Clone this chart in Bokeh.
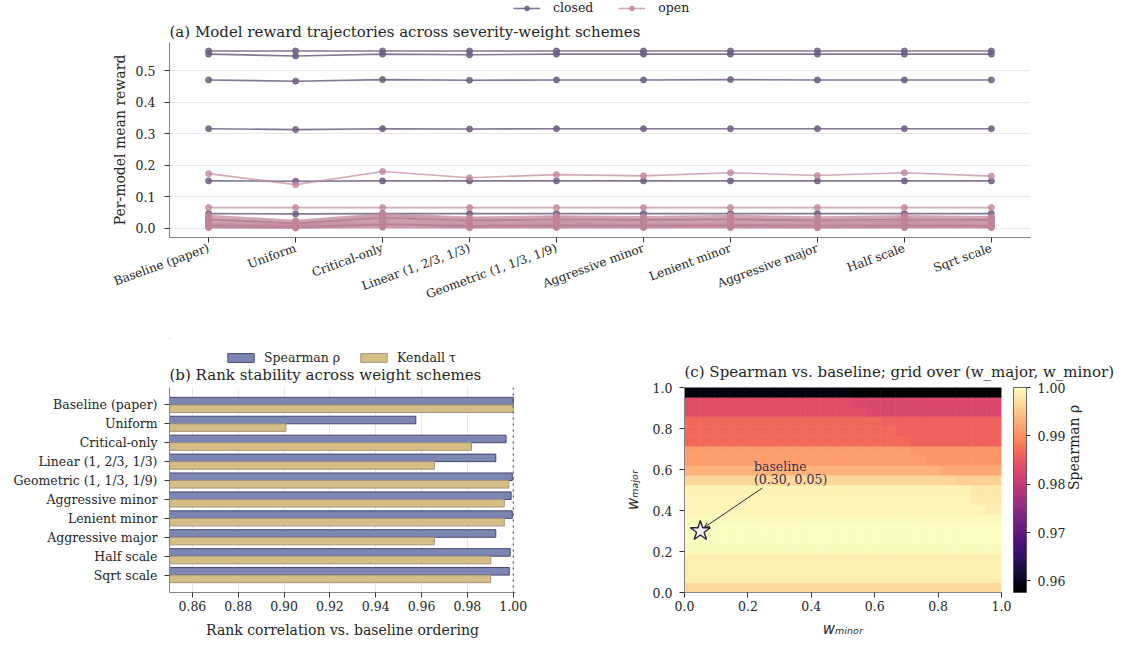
import math
from bokeh.plotting import figure
from bokeh.models import (Range1d, FixedTicker, PrintfTickFormatter, Label, Legend, LegendItem,
                          ColorBar, LinearColorMapper, Span, Arrow, OpenHead, ColumnDataSource,
                          LinearAxis)
from bokeh.layouts import column, row
from bokeh.palettes import Magma256
from bokeh.transform import transform
from bokeh.embed import file_html
from bokeh.resources import INLINE

FONT = "DejaVu Serif"
TXT = "#262626"

# ---------------- data ----------------
schemes = ["Baseline (paper)", "Uniform", "Critical-only", "Linear (1, 2/3, 1/3)",
           "Geometric (1, 1/3, 1/9)", "Aggressive minor", "Lenient minor",
           "Aggressive major", "Half scale", "Sqrt scale"]

closed_models = {
    "closed_a": [0.563, 0.563, 0.563, 0.563, 0.563, 0.563, 0.563, 0.563, 0.563, 0.563],
    "closed_b": [0.553, 0.547, 0.553, 0.551, 0.553, 0.553, 0.553, 0.553, 0.553, 0.553],
    "closed_c": [0.471, 0.467, 0.472, 0.470, 0.471, 0.471, 0.472, 0.471, 0.471, 0.471],
    "closed_d": [0.316, 0.313, 0.316, 0.315, 0.316, 0.316, 0.316, 0.316, 0.316, 0.316],
    "closed_e": [0.150, 0.149, 0.150, 0.150, 0.150, 0.150, 0.150, 0.150, 0.150, 0.150],
    "closed_f": [0.046, 0.045, 0.046, 0.046, 0.046, 0.046, 0.046, 0.046, 0.046, 0.046],
    "closed_g": [0.027, 0.015, 0.033, 0.024, 0.027, 0.026, 0.028, 0.025, 0.027, 0.026],
    "closed_h": [0.009, 0.003, 0.012, 0.007, 0.009, 0.008, 0.009, 0.008, 0.009, 0.008],
}

open_models = {
    "open_a": [0.173, 0.138, 0.180, 0.160, 0.170, 0.166, 0.176, 0.167, 0.176, 0.165],
    "open_b": [0.065, 0.065, 0.065, 0.065, 0.065, 0.065, 0.065, 0.065, 0.065, 0.065],
    "open_c": [0.040, 0.024, 0.045, 0.034, 0.038, 0.036, 0.040, 0.035, 0.039, 0.036],
    "open_d": [0.036, 0.020, 0.041, 0.030, 0.034, 0.032, 0.036, 0.031, 0.035, 0.032],
    "open_e": [0.032, 0.017, 0.038, 0.027, 0.030, 0.029, 0.032, 0.028, 0.031, 0.029],
    "open_f": [0.028, 0.014, 0.034, 0.023, 0.027, 0.025, 0.028, 0.024, 0.027, 0.025],
    "open_g": [0.024, 0.011, 0.030, 0.020, 0.023, 0.022, 0.024, 0.021, 0.023, 0.022],
    "open_h": [0.020, 0.009, 0.026, 0.017, 0.019, 0.018, 0.021, 0.018, 0.020, 0.018],
    "open_i": [0.017, 0.007, 0.022, 0.014, 0.016, 0.015, 0.017, 0.015, 0.017, 0.015],
    "open_j": [0.014, 0.005, 0.018, 0.011, 0.013, 0.012, 0.014, 0.012, 0.014, 0.012],
    "open_k": [0.011, 0.004, 0.015, 0.009, 0.010, 0.010, 0.011, 0.009, 0.011, 0.009],
    "open_l": [0.008, 0.003, 0.011, 0.006, 0.008, 0.007, 0.008, 0.007, 0.008, 0.007],
    "open_m": [0.005, 0.002, 0.008, 0.004, 0.005, 0.005, 0.005, 0.004, 0.005, 0.004],
    "open_n": [0.003, 0.001, 0.005, 0.002, 0.003, 0.003, 0.003, 0.002, 0.003, 0.003],
    "open_o": [0.001, 0.000, 0.002, 0.001, 0.001, 0.001, 0.001, 0.001, 0.001, 0.001],
}

spearman_rho = [1.0000, 0.9575, 0.9969, 0.9924, 0.9996, 0.9991, 0.9996, 0.9924, 0.9987, 0.9983]
kendall_tau = [1.0000, 0.9008, 0.9818, 0.9656, 0.9981, 0.9961, 0.9961, 0.9656, 0.9902, 0.9902]

w_minor = [0.00, 0.05, 0.10, 0.15, 0.20, 0.25, 0.30, 0.35, 0.40, 0.45, 0.50,
           0.55, 0.60, 0.65, 0.70, 0.75, 0.80, 0.85, 0.90, 0.95, 1.00]
w_major = [0.00, 0.05, 0.10, 0.15, 0.20, 0.25, 0.30, 0.35, 0.40, 0.45, 0.50,
           0.55, 0.60, 0.65, 0.70, 0.75, 0.80, 0.85, 0.90, 0.95, 1.00]
# Spearman rho vs baseline; one row per w_major value (bottom to top), columns follow w_minor
spearman_grid = [
    [0.99661] * 21,
    [0.99873] * 21,
    [0.99873] * 21,
    [0.99873] * 21,
    [0.99979] * 21,
    [0.99985] * 21,
    [0.99985, 1.00000] + [0.99985] * 19,
    [0.99960] * 21,
    [0.99930] * 20 + [0.99840],
    [0.99920] * 19 + [0.99820] * 2,
    [0.99915] * 19 + [0.99809] * 2,
    [0.99640] * 18 + [0.99576] * 3,
    [0.99322] * 17 + [0.99237] * 4,
    [0.99131] * 16 + [0.99067] * 5,
    [0.99131] * 15 + [0.99067] * 6,
    [0.98664] * 15 + [0.98580] * 6,
    [0.98664] * 14 + [0.98580] * 7,
    [0.98664] * 13 + [0.98580] * 8,
    [0.98346] * 12 + [0.98283] * 9,
    [0.98346] * 11 + [0.98283] * 10,
    [0.95890] * 11 + [0.95760] * 10,
]
baseline_w_minor = 0.05
baseline_w_major = 0.30

CLOSED = "#6d5f82"
OPEN = "#c08499"
SPEAR_FILL, SPEAR_LINE = "#7b87b2", "#4c4672"
KEND_FILL, KEND_LINE = "#d5be86", "#a69580"


def style_axis(ax, tick_size="12.5px", label_size="14px"):
    ax.axis_line_color = "#8a8285"
    ax.axis_line_width = 1
    ax.major_tick_line_color = "#333333"
    ax.major_tick_out = 5
    ax.major_tick_in = 0
    ax.minor_tick_line_color = None
    ax.major_label_text_font = FONT
    ax.major_label_text_font_size = tick_size
    ax.major_label_text_color = TXT
    ax.axis_label_text_font = FONT
    ax.axis_label_text_font_size = label_size
    ax.axis_label_text_font_style = "normal"
    ax.axis_label_text_color = TXT


def style_title(p, text, standoff):
    p.title.text = text
    p.title.align = "left"
    p.title.text_font = FONT
    p.title.text_font_size = "15px"
    p.title.text_font_style = "normal"
    p.title.text_color = TXT
    p.title.standoff = standoff


def strip(width, height, x_range, y_range, left=0, right=0):
    f = figure(width=width, height=height, output_backend="svg", toolbar_location=None,
               x_range=x_range, y_range=y_range,
               x_axis_location=None, y_axis_location=None, min_border=0,
               min_border_left=left, min_border_right=right)
    f.outline_line_color = None
    f.grid.visible = False
    return f


# ---------------- legend strip for (a) ----------------
leg_a_fig = strip(1137, 18, Range1d(0, 1), Range1d(0, 1), left=169, right=107)
la_c = [leg_a_fig.line(x=[-5, -4], y=[-5, -5], line_color=CLOSED, line_alpha=0.85, line_width=1.6),
        leg_a_fig.scatter(x=[-5], y=[-5], size=6, fill_color=CLOSED, line_color=CLOSED, alpha=0.85)]
la_o = [leg_a_fig.line(x=[-5, -4], y=[-5, -5], line_color=OPEN, line_alpha=0.7, line_width=1.6),
        leg_a_fig.scatter(x=[-5], y=[-5], size=6, fill_color=OPEN, line_color=OPEN, alpha=0.75)]
leg_a_fig.add_layout(Legend(
    items=[LegendItem(label="closed", renderers=la_c), LegendItem(label="open", renderers=la_o)],
    location=(344, 3), orientation="horizontal",
    glyph_width=27, glyph_height=12, label_height=12, label_standoff=13, spacing=25,
    padding=0, margin=0, border_line_alpha=0, background_fill_alpha=0,
    label_text_font=FONT, label_text_font_size="12.5px", label_text_color=TXT))

# ---------------- (a) trajectories ----------------
x_idx = list(range(len(schemes)))
pa = figure(width=1137, height=320, output_backend="svg", toolbar_location=None,
            x_range=Range1d(-0.45, 9.45), y_range=Range1d(-0.03, 0.59),
            min_border_left=169, min_border_right=107, min_border_top=24, min_border_bottom=101)
style_title(pa, "(a) Model reward trajectories across severity-weight schemes", 4)
pa.outline_line_color = None
pa.xgrid.visible = False
pa.ygrid.grid_line_color = "#e9e5ec"
pa.ygrid.ticker = FixedTicker(ticks=[0.0, 0.1, 0.2, 0.3, 0.4, 0.5])
for ax in pa.xaxis + pa.yaxis:
    style_axis(ax)
pa.yaxis.ticker = FixedTicker(ticks=[0.0, 0.1, 0.2, 0.3, 0.4, 0.5])
pa.yaxis.formatter = PrintfTickFormatter(format="%.1f")
pa.yaxis.axis_label = "Per-model mean reward"
pa.yaxis.major_label_standoff = 9
pa.yaxis.axis_label_standoff = 5
pa.xaxis.ticker = FixedTicker(ticks=x_idx)
pa.xaxis.major_label_overrides = {i: s for i, s in enumerate(schemes)}
pa.xaxis.major_label_orientation = math.radians(20)
pa.xaxis.major_label_text_font_size = "12px"
pa.xaxis.major_label_standoff = 5

for vals in closed_models.values():
    pa.line(x_idx, vals, line_color=CLOSED, line_alpha=0.85, line_width=1.6)
    pa.scatter(x_idx, vals, size=6, fill_color=CLOSED, line_color=CLOSED, alpha=0.85)
for vals in open_models.values():
    pa.line(x_idx, vals, line_color=OPEN, line_alpha=0.7, line_width=1.6)
    pa.scatter(x_idx, vals, size=6, fill_color=OPEN, line_color=OPEN, alpha=0.75)

# ---------------- strip above (b): legend and title ----------------
bx_range = Range1d(0.85, 1.001)
strip_b = strip(580, 49, bx_range, Range1d(49, 0), left=169, right=65)
lb_s = strip_b.hbar(y=[-5], left=0.0, right=[0.1], height=0.4,
                    fill_color=SPEAR_FILL, line_color=SPEAR_LINE, line_width=1)
lb_k = strip_b.hbar(y=[-5], left=0.0, right=[0.1], height=0.4,
                    fill_color=KEND_FILL, line_color=KEND_LINE, line_width=1)
strip_b.add_layout(Legend(
    items=[LegendItem(label="Spearman ρ", renderers=[lb_s]), LegendItem(label="Kendall τ", renderers=[lb_k])],
    location=(55, 22), orientation="horizontal",
    glyph_width=33, glyph_height=11, label_height=11, label_standoff=7, spacing=17,
    padding=0, margin=0, border_line_alpha=0, background_fill_alpha=0,
    label_text_font=FONT, label_text_font_size="12.5px", label_text_color=TXT))
strip_b.add_layout(Label(x=0.85, y=36, text="(b) Rank stability across weight schemes",
                         text_font=FONT, text_font_size="15px", text_baseline="alphabetic",
                         text_color=TXT))

# ---------------- (b) rank stability ----------------
y_idx = list(range(len(schemes)))
pb = figure(width=580, height=258, output_backend="svg", toolbar_location=None,
            x_range=bx_range, y_range=Range1d(9.92, -0.92),
            min_border_left=169, min_border_right=65, min_border_top=0, min_border_bottom=53)
pb.outline_line_color = None
pb.ygrid.visible = False
pb.xgrid.grid_line_color = "#e9e5ec"
for ax in pb.xaxis + pb.yaxis:
    style_axis(ax)
pb.xaxis.ticker = FixedTicker(ticks=[0.86, 0.88, 0.90, 0.92, 0.94, 0.96, 0.98, 1.00])
pb.xgrid.ticker = FixedTicker(ticks=[0.86, 0.88, 0.90, 0.92, 0.94, 0.96, 0.98, 1.00])
pb.xaxis.formatter = PrintfTickFormatter(format="%.2f")
pb.xaxis.axis_label = "Rank correlation vs. baseline ordering"
pb.xaxis.major_label_standoff = 3
pb.xaxis.axis_label_standoff = 8
pb.yaxis.ticker = FixedTicker(ticks=y_idx)
pb.yaxis.major_label_overrides = {i: s for i, s in enumerate(schemes)}
pb.yaxis.major_label_standoff = 7

pb.hbar(y=[i - 0.2 for i in y_idx], left=0, right=spearman_rho, height=0.4,
        fill_color=SPEAR_FILL, line_color=SPEAR_LINE, line_width=1)
pb.hbar(y=[i + 0.2 for i in y_idx], left=0, right=kendall_tau, height=0.4,
        fill_color=KEND_FILL, line_color=KEND_LINE, line_width=1)
pb.add_layout(Span(location=1.0, dimension="height", line_color="#3d3350",
                   line_dash="dotted", line_width=1))

# ---------------- (c) heatmap ----------------
n_x = len(w_minor)
n_y = len(w_major)
cells = {"x": [], "y": [], "v": []}
for i in range(n_y):
    for j in range(n_x):
        cells["x"].append((j + 0.5) / n_x)
        cells["y"].append((i + 0.5) / n_y)
        cells["v"].append(spearman_grid[i][j])
src = ColumnDataSource(cells)
vmin = min(min(r) for r in spearman_grid)
vmax = max(max(r) for r in spearman_grid)
mapper = LinearColorMapper(palette=Magma256, low=vmin, high=vmax)

pc = figure(width=557, height=307, output_backend="svg", toolbar_location=None,
            x_range=Range1d(0, 1), y_range=Range1d(0, 1),
            min_border_left=104, min_border_right=136, min_border_top=49, min_border_bottom=53)
style_title(pc, "(c) Spearman vs. baseline; grid over (w_major, w_minor)", 14)
pc.outline_line_color = None
pc.grid.visible = False
for ax in pc.xaxis + pc.yaxis:
    style_axis(ax)
    ax.ticker = FixedTicker(ticks=[0.0, 0.2, 0.4, 0.6, 0.8, 1.0])
    ax.formatter = PrintfTickFormatter(format="%.1f")
    ax.axis_label_text_font = "DejaVu Sans"
    ax.axis_label_text_font_style = "italic"
    ax.axis_label_text_font_size = "15px"
pc.xaxis.major_label_standoff = 3
pc.yaxis.major_label_standoff = 7
pc.xaxis.axis_label = "wₘᵢₙₒᵣ"
pc.yaxis.axis_label = "wₘₐⱼₒᵣ"
pc.xaxis.axis_label_standoff = 6
pc.yaxis.axis_label_standoff = 8
pc.rect(x="x", y="y", width=1 / n_x, height=1 / n_y, source=src,
        fill_color=transform("v", mapper), line_color=transform("v", mapper), line_width=0.6)

pc.add_layout(Arrow(x_start=0.245, y_start=0.509, x_end=0.063, y_end=0.318,
                    line_color="#2d2340", line_width=1,
                    end=OpenHead(size=5, line_color="#2d2340", line_width=1)))
pc.scatter([baseline_w_minor], [baseline_w_major], marker="star", size=21,
           fill_color="#f2edf5", line_color="#2d2340", line_width=1.4)
pc.add_layout(Label(x=0.219, y=0.613, text="baseline", text_font=FONT, text_font_size="12.5px",
                    text_baseline="alphabetic", text_color="#3b2e4c"))
pc.add_layout(Label(x=0.219, y=0.553, text=f"({baseline_w_major:.2f}, {baseline_w_minor:.2f})",
                    text_font=FONT, text_font_size="12.5px", text_baseline="alphabetic",
                    text_color="#3b2e4c"))

cb = ColorBar(color_mapper=mapper, location=(329, 0), width=13, height=205, padding=0, margin=0,
              ticker=FixedTicker(ticks=[0.96, 0.97, 0.98, 0.99, 1.00]),
              formatter=PrintfTickFormatter(format="%.2f"),
              major_tick_out=4, major_tick_in=0, major_tick_line_color="#333333",
              minor_tick_line_color=None, bar_line_color="#444444", bar_line_width=0.8,
              label_standoff=7, major_label_text_font=FONT, major_label_text_font_size="12.5px",
              major_label_text_color=TXT, background_fill_alpha=0, border_line_color=None)
pc.add_layout(cb)

# an axis without ticks that only carries the colour bar's label
cax = LinearAxis(ticker=FixedTicker(ticks=[]), axis_label="Spearman ρ", axis_line_color=None,
                 major_tick_line_color=None, minor_tick_line_color=None,
                 axis_label_text_font=FONT, axis_label_text_font_size="14px",
                 axis_label_text_font_style="normal", axis_label_text_color=TXT,
                 axis_label_text_align="center", axis_label_standoff=72)
if "axis_label_orientation" in LinearAxis.properties():
    cax.axis_label_orientation = math.pi / 2
pc.add_layout(cax, "right")

layout = column(leg_a_fig, pa, row(column(strip_b, pb), pc))
open("out.html", "w").write(file_html(layout, INLINE, title="Severity weights"))
